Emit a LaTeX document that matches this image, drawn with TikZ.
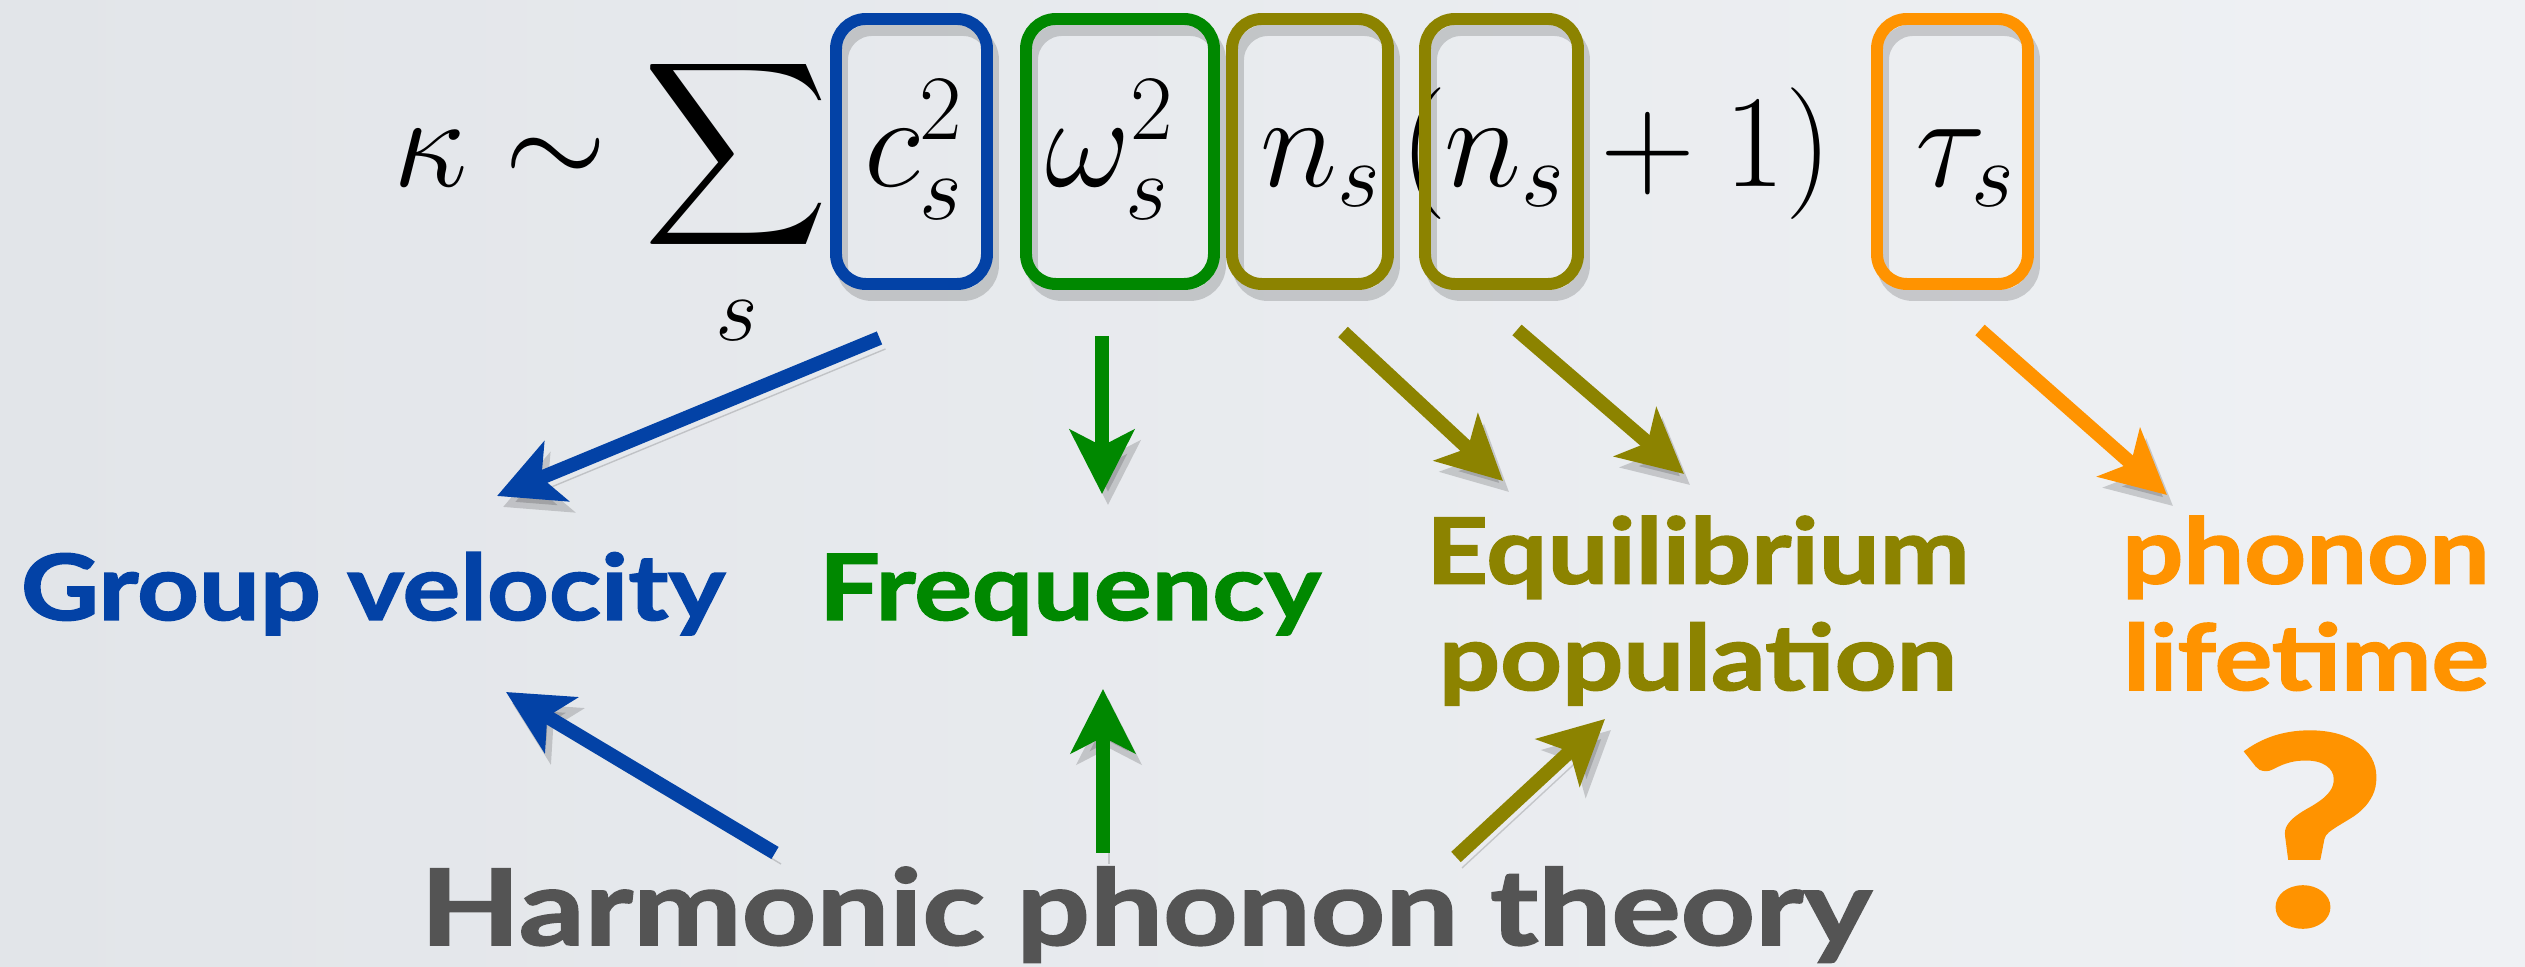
\RequirePackage{fix-cm}
\documentclass[tikz,border=0pt]{standalone}
\usepackage{amsmath}
\usepackage{exscale}
\usepackage{fontspec}
\usepackage{graphicx}
\newfontfamily\labelfont{Lato}[BoldFeatures={FakeBold=1.5}]
\usetikzlibrary{arrows.meta}

\definecolor{velblue}{RGB}{3,66,166}
\definecolor{freqgreen}{RGB}{0,136,0}
\definecolor{popolive}{RGB}{140,131,0}
\definecolor{lifeorange}{RGB}{255,147,0}
\definecolor{harmgray}{RGB}{84,84,84}
\definecolor{bgleft}{RGB}{226,229,233}
\definecolor{bgright}{RGB}{239,241,244}

\newcommand{\wide}[2][1.18]{\scalebox{#1}[1]{#2}}
\newcommand{\bigsum}{\mathop{\vcenter{\hbox{\scalebox{1.47}{$\displaystyle\sum$}}}}\limits}

\begin{document}
\begin{tikzpicture}[x=0.1mm, y=-0.1mm,
  term/.style={inner sep=0pt, font=\fontsize{37.5}{40}\selectfont},
  softshadow/.style={preaction={draw=black, opacity=.16, transform canvas={shift={(0.6mm,-1.1mm)}}}},
  factor/.style={draw=#1, line width=3.4pt, rounded corners=3mm, minimum height=26.5mm, softshadow},
  link/.style={draw=#1, line width=4pt, -{Stealth[length=6.4mm, width=6.4mm, inset=1.6mm]}, softshadow},
  lbl/.style={font=\labelfont\bfseries\fontsize{26}{30.3}\selectfont, inner sep=0pt, align=center, text=#1}]
\useasboundingbox (0,0) rectangle (2525,967);
\shade[left color=bgleft, right color=bgright] (0,0) rectangle (2525,967);

% the sum
\node[term, anchor=base east] (ksum) at (830,187) {$\displaystyle\kappa\sim\bigsum_{\mathstrut s}$};
\node[term, anchor=base] (cs) at (914,187) {$c_s^2$};
\node[term, anchor=base] (ws) at (1110,187) {$\omega_s^2$};
\node[term, anchor=base] (ns) at (1321,187) {$n_s$};
\node[term, anchor=base west] (lp) at (1400,187) {$($};
\node[term, anchor=base] (nns) at (1505,187) {$n_s$};
\node[term, anchor=base west] (rp) at (1600,187) {$+\mskip\medmuskip1)$};
\node[term, anchor=base] (ts) at (1966,187) {$\tau_s$};

% boxes round the factors
\node[factor=velblue, minimum width=15.1mm] (boxc) at (911.5,151.5) {};
\node[factor=freqgreen, minimum width=18.8mm] (boxw) at (1120,151.5) {};
\node[factor=popolive, minimum width=15.6mm] (boxn) at (1310,151.5) {};
\node[factor=popolive, minimum width=15.3mm] (boxnn) at (1501.5,151.5) {};
\node[factor=lifeorange, minimum width=15.1mm] (boxt) at (1952.5,151.5) {};

% labels
\node[lbl=velblue, anchor=base] (gv) at (373,620) {\wide{Group velocity}};
\node[lbl=freqgreen, anchor=base] (freq) at (1070,620) {\wide{Frequency}};
\node[lbl=popolive, anchor=north] (eq) at (1698,515) {\wide{Equilibrium}\\\wide{population}};
\node[lbl=lifeorange, anchor=north] (life) at (2306,515) {\wide{phonon}\\\wide{lifetime}};
\node[lbl=lifeorange, font=\labelfont\bfseries\fontsize{75}{80}\selectfont, anchor=base] (q) at (2311,925) {\wide[1.25]{?}};
\node[lbl=harmgray, font=\labelfont\bfseries\fontsize{30}{36}\selectfont, anchor=base] (harm) at (1146,945) {\wide[1.23]{Harmonic phonon theory}};

\draw[link=velblue] ([shift={(-32,48)}]boxc.south) -- ([shift={(124,-124)}]gv.base);
\draw[link=freqgreen] ([shift={(-18,46)}]boxw.south) -- ([shift={(32,-126)}]freq.base);
\draw[link=popolive] ([shift={(33,42)}]boxn.south) -- ([shift={(-195,-34)}]eq.north);
\draw[link=popolive] ([shift={(15.5,40)}]boxnn.south) -- ([shift={(-14,-41)}]eq.north);
\draw[link=lifeorange] ([shift={(27.5,40)}]boxt.south) -- ([shift={(-139,-20)}]life.north);

\draw[link=velblue] ([shift={(-371,-92)}]harm.base) -- ([shift={(133,72)}]gv.base);
\draw[link=freqgreen] ([shift={(-43,-92)}]harm.base) -- ([shift={(33,69)}]freq.base);
\draw[link=popolive] ([shift={(310,-88)}]harm.base) -- ([shift={(-93,204)}]eq.north);
\end{tikzpicture}
\end{document}
